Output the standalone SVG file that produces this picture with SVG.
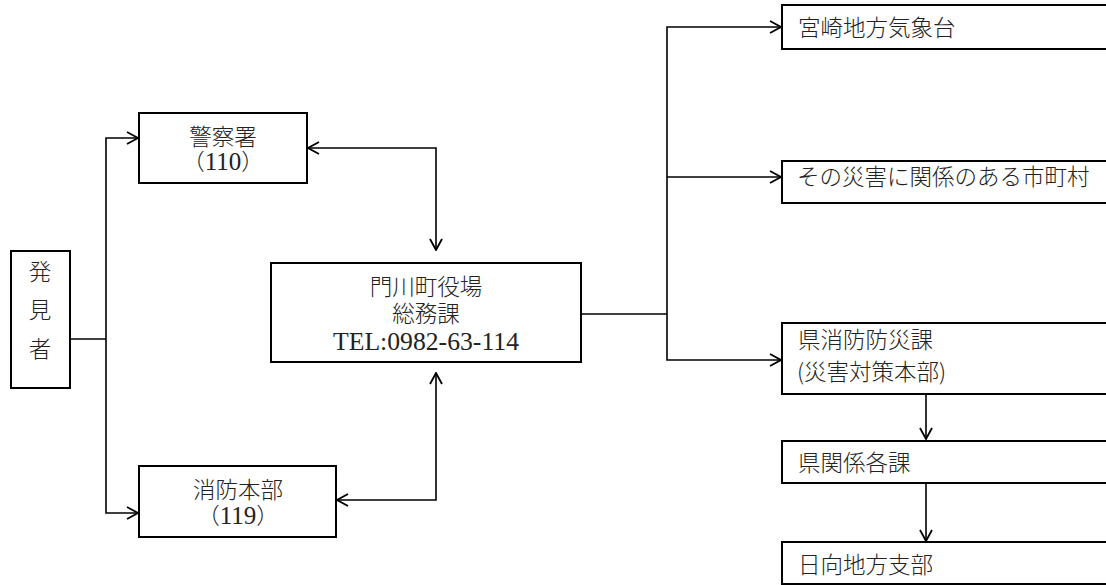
<svg xmlns="http://www.w3.org/2000/svg" width="1106" height="585" viewBox="0 0 1106 585">
<style>
.box{fill:#fff;stroke:#000;stroke-width:2}
.ln{fill:none;stroke:#000;stroke-width:1.6}
.t{font-family:"Liberation Serif","Noto Sans CJK JP",serif;font-size:22.5px;font-weight:300;fill:#222}
.g{font-family:"Noto Sans CJK JP","Liberation Sans",sans-serif;font-size:22.5px;font-weight:300;fill:#222}
.n{font-size:25px;font-weight:400}
.c{text-anchor:middle}
</style>
<defs>
<marker id="a" markerUnits="userSpaceOnUse" markerWidth="14" markerHeight="14" viewBox="0 0 14 14" refX="13" refY="7" orient="auto-start-reverse">
<path d="M2,1 L13,7 L2,13" fill="none" stroke="#000" stroke-width="1.8"/>
</marker>
</defs>
<g id="connectors">
<polyline class="ln" points="70,339 106,339"/>
<polyline class="ln" points="106,339 106,138 138,138" marker-end="url(#a)"/>
<polyline class="ln" points="106,339 106,513 138,513" marker-end="url(#a)"/>
<polyline class="ln" points="308,148 436,148 436,250" marker-start="url(#a)" marker-end="url(#a)"/>
<polyline class="ln" points="337,500 436,500 436,373" marker-start="url(#a)" marker-end="url(#a)"/>
<polyline class="ln" points="581,314 667,314"/>
<polyline class="ln" points="667,314 667,27 781,27" marker-end="url(#a)"/>
<polyline class="ln" points="667,177 781,177" marker-end="url(#a)"/>
<polyline class="ln" points="667,314 667,360 781,360" marker-end="url(#a)"/>
<polyline class="ln" points="926,394 926,439" marker-end="url(#a)"/>
<polyline class="ln" points="926,483 926,541" marker-end="url(#a)"/>
</g>
<g id="hakkensha">
<rect class="box" x="11" y="251" width="59" height="137"/>
<text class="g c" x="40" y="280">発</text>
<text class="g c" x="40" y="318">見</text>
<text class="g c" x="40" y="357">者</text>
</g>
<g id="keisatsu">
<rect class="box" x="139" y="113" width="168" height="70"/>
<text class="t c" x="223" y="145">警察署</text>
<text class="t c" x="223" y="170">（<tspan class="n">110</tspan>）</text>
</g>
<g id="shobo">
<rect class="box" x="139" y="466" width="197" height="71"/>
<text class="t c" x="238" y="498">消防本部</text>
<text class="t c" x="238" y="524">（<tspan class="n">119</tspan>）</text>
</g>
<g id="yakuba">
<rect class="box" x="271" y="263" width="310" height="99"/>
<text class="t c" x="426" y="295">門川町役場</text>
<text class="t c" x="426" y="322">総務課</text>
<text class="t c n" x="426" y="350" textLength="186" lengthAdjust="spacingAndGlyphs">TEL:0982-63-114</text>
</g>
<g id="kishodai">
<rect class="box" x="782" y="5" width="330" height="44"/>
<text class="g" x="798" y="36">宮崎地方気象台</text>
</g>
<g id="shichoson">
<rect class="box" x="782" y="161" width="330" height="42"/>
<text class="g" x="797" y="185">その災害に関係のある市町村</text>
</g>
<g id="bosaika">
<rect class="box" x="782" y="323" width="330" height="71"/>
<text class="g" x="798" y="348">県消防防災課</text>
<text class="g" x="797" y="380">(災害対策本部)</text>
</g>
<g id="kakuka">
<rect class="box" x="782" y="441" width="330" height="42"/>
<text class="g" x="798" y="471">県関係各課</text>
</g>
<g id="hyuga">
<rect class="box" x="782" y="542" width="330" height="42"/>
<text class="g" x="798" y="573">日向地方支部</text>
</g>
</svg>
